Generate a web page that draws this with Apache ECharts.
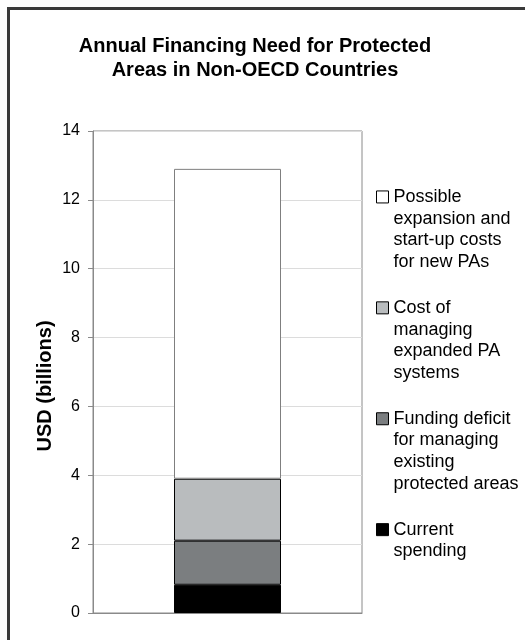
<!DOCTYPE html>
<html>
<head>
<meta charset="utf-8">
<script src="https://cdn.jsdelivr.net/npm/echarts@6/dist/echarts.min.js"></script>
<style>html,body{margin:0;padding:0;background:#fff}#c{width:525px;height:640px}</style>
</head>
<body>
<div id="c"></div>
<script>
const categories = [''];
const seriesNames = [
  'Current spending',
  'Funding deficit for managing existing protected areas',
  'Cost of managing expanded PA systems',
  'Possible expansion and start-up costs for new PAs'
];
const legendLabels = [
  'Current\nspending',
  'Funding deficit\nfor managing\nexisting\nprotected areas',
  'Cost of\nmanaging\nexpanded PA\nsystems',
  'Possible\nexpansion and\nstart-up costs\nfor new PAs'
];
const currentSpending = [0.82];
const fundingDeficit = [1.28];
const costManagingExpanded = [1.80];
const possibleExpansion = [9.0];
const yTicks = [0, 2, 4, 6, 8, 10, 12, 14];

const values = [currentSpending, fundingDeficit, costManagingExpanded, possibleExpansion];
const fills = ['#000000', '#7b7e80', '#b9bcbe', '#ffffff'];
const borders = ['#000000', '#000000', '#000000', '#7f7f7f'];
const FONT = '"Liberation Sans", Arial, Helvetica, sans-serif';

// pad each legend label to 7 lines so the icon sits next to the first visible line
function padLabel(s) {
  const n = s.split('\n').length;
  const before = 3;
  const after = 7 - before - n;
  return '\n'.repeat(before) + s + '\n'.repeat(Math.max(0, after));
}
const labelMap = {};
seriesNames.forEach((n, i) => { labelMap[n] = padLabel(legendLabels[i]); });

const chart = echarts.init(document.getElementById('c'), null, {renderer: 'canvas'});
chart.setOption({
  backgroundColor: '#ffffff',
  animation: false,
  textStyle: {fontFamily: FONT},
  title: {
    text: 'Annual Financing Need for Protected\nAreas in Non-OECD Countries',
    left: 255, top: 35, padding: 0, textAlign: 'center',
    textStyle: {fontFamily: FONT, fontSize: 20, fontWeight: 'bold', color: '#000', lineHeight: 23.5}
  },
  graphic: [{
    type: 'rect', silent: true, z: 100,
    shape: {x: 8.5, y: 8.5, width: 600, height: 700},
    style: {fill: 'none', stroke: '#3a3a3a', lineWidth: 3}
  }],
  legend: {
    orient: 'vertical', left: 376, top: 121, padding: 0,
    itemWidth: 12, itemHeight: 12, itemGap: -41,
    selectedMode: false,
    icon: 'rect',
    data: seriesNames.slice().reverse().map(n => ({
      name: n,
      itemStyle: {borderColor: '#000', borderWidth: 1}
    })),
    formatter: name => labelMap[name],
    textStyle: {fontFamily: FONT, fontSize: 18, lineHeight: 21.7, color: '#000'}
  },
  grid: {
    left: 93, right: 163, top: 131, bottom: 27,
    show: true, borderColor: '#8a8a8a', borderWidth: 1, containLabel: false
  },
  xAxis: {
    type: 'category', data: categories,
    axisLine: {show: true, lineStyle: {color: '#8a8a8a'}},
    axisTick: {show: false}, axisLabel: {show: false}, splitLine: {show: false}
  },
  yAxis: {
    type: 'value', min: yTicks[0], max: yTicks[yTicks.length - 1], interval: 2,
    name: 'USD (billions)', nameLocation: 'middle', nameGap: 38, nameMoveOverlap: false,
    nameTextStyle: {fontFamily: FONT, fontSize: 20, fontWeight: 'bold', color: '#000', padding: [0, 28, 0, 0]},
    axisLine: {show: true, lineStyle: {color: '#8a8a8a'}},
    axisTick: {show: true, length: 5, lineStyle: {color: '#8a8a8a'}},
    axisLabel: {fontFamily: FONT, fontSize: 16, color: '#000', margin: 13},
    splitLine: {show: true, lineStyle: {color: '#dcdcdc'}}
  },
  series: seriesNames.map((n, i) => ({
    name: n, type: 'bar', stack: 'total', barWidth: 107,
    data: values[i],
    itemStyle: {color: fills[i], borderColor: borders[i], borderWidth: 1},
    emphasis: {disabled: true}
  }))
});
</script>
</body>
</html>
